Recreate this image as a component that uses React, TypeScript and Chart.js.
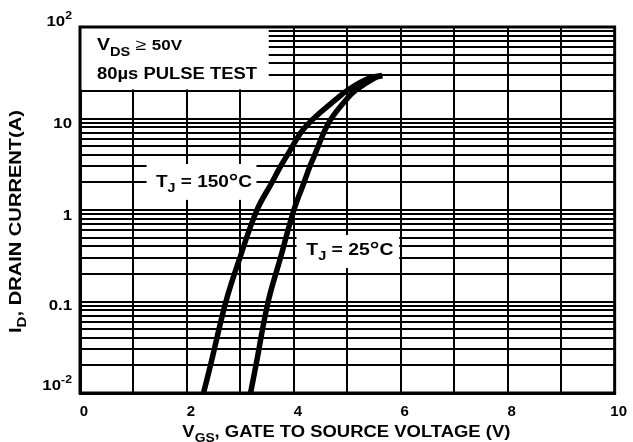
import React, { useEffect, useRef } from 'react';
import { Chart, registerables } from 'chart.js';

Chart.register(...registerables);

// ---- data ----
const vgs150 = [2.31, 2.44, 2.73, 2.99, 3.31, 3.59, 3.75, 3.88, 4.13, 4.37, 4.81, 5.01, 5.4, 5.65];
const id150 = [0.01, 0.02, 0.1, 0.3, 1, 2, 3, 4, 7, 10, 16.6, 20.5, 27.5, 29.5];
const vgs25 = [3.19, 3.29, 3.52, 3.75, 4.0, 4.19, 4.3, 4.39, 4.56, 4.7, 5.0, 5.16, 5.5, 5.65];
const id25 = [0.01, 0.02, 0.1, 0.3, 1, 2, 3, 4, 7, 10, 16.6, 20.5, 27.5, 29.5];

const xTicks = [0, 1, 2, 3, 4, 5, 6, 7, 8, 9, 10];
const xTickLabels = ['0', '', '2', '', '4', '', '6', '', '8', '', '10'];

const yDecades = [0.01, 0.1, 1, 10];
const yMinor = [1, 2, 3, 4, 5, 6, 7, 8, 9];
const yTop = 100;
const yLabelValues = [100, 10, 1, 0.1, 0.01];
const yLabelBase = ['10', '10', '1', '0.1', '10'];
const yLabelSup = ['2', '', '', '', '-2'];

const FONT = '"Liberation Sans", Arial, Helvetica, sans-serif';

type Run = { t: string; size: number; dy?: number; weight?: string };

function fontOf(r: Run) {
  return `${r.weight ?? 'bold'} ${r.size}px ${FONT}`;
}

function drawRuns(
  ctx: CanvasRenderingContext2D,
  runs: Run[],
  x: number,
  y: number,
  align: 'left' | 'center' | 'right',
  target?: number,
  sx = 1.12
) {
  ctx.save();
  let w = 0;
  const widths: number[] = [];
  for (const r of runs) {
    ctx.font = fontOf(r);
    const m = ctx.measureText(r.t).width;
    widths.push(m);
    w += m;
  }
  const s = target ? target / w : sx;
  const total = w * s;
  const start = align === 'left' ? x : align === 'center' ? x - total / 2 : x - total;
  ctx.translate(start, y);
  ctx.scale(s, 1);
  ctx.textAlign = 'left';
  ctx.textBaseline = 'alphabetic';
  ctx.fillStyle = '#000';
  let cx = 0;
  runs.forEach((r, i) => {
    ctx.font = fontOf(r);
    ctx.fillText(r.t, cx, r.dy ?? 0);
    cx += widths[i];
  });
  ctx.restore();
}

const annotationPlugin = {
  id: 'annotations',
  beforeDatasetsDraw(chart: any) {
    const { ctx, chartArea, scales } = chart;
    const xs = scales.x;
    const ys = scales.y;
    const rect = (x0: number, x1: number, y0: number, y1: number) => {
      const l = xs.getPixelForValue(x0);
      const r = xs.getPixelForValue(x1);
      const t = ys.getPixelForValue(y1);
      const b = ys.getPixelForValue(y0);
      ctx.fillStyle = '#fff';
      ctx.fillRect(l, t, r - l, b - t);
      return { l, r, t, b };
    };
    ctx.save();
    const b1 = rect(0, 3.53, 20.8, 100);
    const b2 = rect(1.245, 3.3, 1.29, 3.18);
    const b3 = rect(4.05, 5.97, 0.232, 0.533);

    // frame
    ctx.strokeStyle = '#000';
    ctx.lineWidth = 3;
    ctx.strokeRect(chartArea.left, chartArea.top, chartArea.right - chartArea.left, chartArea.bottom - chartArea.top);

    // box texts
    drawRuns(
      ctx,
      [
        { t: 'V', size: 16 },
        { t: 'DS', size: 12, dy: 6 },
        { t: ' \u2265 ', size: 16, weight: 'normal' },
        { t: '50V', size: 14 },
      ],
      b1.l + 17,
      b1.t + 23,
      'left',
      85
    );
    drawRuns(ctx, [{ t: '80\u00b5s PULSE TEST', size: 16 }], b1.l + 17, b1.t + 52, 'left', 160);

    drawRuns(
      ctx,
      [
        { t: 'T', size: 16 },
        { t: 'J', size: 12, dy: 5 },
        { t: ' = 150', size: 16 },
        { t: '\u00b0', size: 20, dy: 1 },
        { t: 'C', size: 16 },
      ],
      (b2.l + b2.r) / 2 + 2.5,
      b2.t + 23,
      'center',
      96
    );
    drawRuns(
      ctx,
      [
        { t: 'T', size: 16 },
        { t: 'J', size: 12, dy: 5 },
        { t: ' = 25', size: 16 },
        { t: '\u00b0', size: 20, dy: 1 },
        { t: 'C', size: 16 },
      ],
      (b3.l + b3.r) / 2 + 2,
      b3.t + 20,
      'center',
      87
    );
    ctx.restore();
  },
  afterDraw(chart: any) {
    const { ctx, chartArea, scales } = chart;
    const ys = scales.y;
    ctx.save();
    // y tick labels
    const dyByLabel = [-6, 4.5, 5, 3.5, -8];
    yLabelValues.forEach((v, i) => {
      const py = ys.getPixelForValue(v) + dyByLabel[i] + 5.4;
      const runs: Run[] = [{ t: yLabelBase[i], size: 15 }];
      if (yLabelSup[i]) runs.push({ t: yLabelSup[i], size: 11, dy: -7 });
      drawRuns(ctx, runs, chartArea.left - 8, py, 'right', undefined, 1.12);
    });

    // x title
    drawRuns(
      ctx,
      [
        { t: 'V', size: 16 },
        { t: 'GS', size: 12, dy: 5 },
        { t: ', GATE TO SOURCE VOLTAGE (V)', size: 16 },
      ],
      (chartArea.left + chartArea.right) / 2 - 1,
      436.5,
      'center',
      328
    );

    // y title (rotated)
    ctx.save();
    ctx.translate(20.5, (chartArea.top + chartArea.bottom) / 2 + 11.5);
    ctx.rotate(-Math.PI / 2);
    drawRuns(
      ctx,
      [
        { t: 'I', size: 16 },
        { t: 'D', size: 12, dy: 5 },
        { t: ', DRAIN CURRENT(A)', size: 16 },
      ],
      0,
      0,
      'center',
      223
    );
    ctx.restore();
    ctx.restore();
  },
};

export default function App() {
  const ref = useRef<HTMLCanvasElement | null>(null);

  useEffect(() => {
    document.body.style.margin = '0';
    const canvas = ref.current;
    if (!canvas) return;

    const yGrid: number[] = [];
    yDecades.forEach((d) => yMinor.forEach((m) => yGrid.push(+(d * m).toPrecision(6))));
    yGrid.push(yTop);

    const curve = (xs: number[], ys: number[], label: string) => ({
      label,
      data: xs.map((x, i) => ({ x, y: ys[i] })),
      borderColor: '#000',
      borderWidth: 5.5,
      pointRadius: 0,
      tension: 0.4,
      fill: false,
    });

    const chart = new Chart(canvas, {
      type: 'line',
      data: {
        datasets: [curve(vgs150, id150, 'TJ = 150°C'), curve(vgs25, id25, 'TJ = 25°C')],
      },
      options: {
        animation: false,
        responsive: false,
        devicePixelRatio: 1,
        layout: { padding: { top: 27, right: 15, left: 0, bottom: 0 } },
        plugins: {
          legend: { display: false },
          tooltip: { enabled: false },
        },
        scales: {
          x: {
            type: 'linear',
            min: 0,
            max: 10,
            afterBuildTicks: (scale: any) => {
              scale.ticks = xTicks.map((v) => ({ value: v }));
            },
            afterFit: (scale: any) => {
              scale.height = 49;
            },
            ticks: {
              autoSkip: false,
              maxRotation: 0,
              padding: 10,
              labelOffset: 4,
              color: '#000',
              font: { family: FONT, size: 15, weight: 'bold' },
              callback: (_v: any, i: number) => xTickLabels[i] ?? '',
            },
            grid: { color: '#000', lineWidth: 2, drawTicks: false },
            border: { display: true, color: '#000', width: 3 },
          },
          y: {
            type: 'logarithmic',
            min: 0.01,
            max: 100,
            afterBuildTicks: (scale: any) => {
              scale.ticks = yGrid.map((v) => ({ value: v }));
            },
            afterFit: (scale: any) => {
              scale.width = 80;
            },
            ticks: { display: false },
            grid: { color: '#000', lineWidth: 2, drawTicks: false },
            border: { display: true, color: '#000', width: 3 },
          },
        },
      } as any,
      plugins: [annotationPlugin],
    });

    return () => chart.destroy();
  }, []);

  return (
    <div style={{ position: 'absolute', left: 0, top: 0, width: 633, height: 442 }}>
      <canvas ref={ref} width={633} height={442} />
    </div>
  );
}
